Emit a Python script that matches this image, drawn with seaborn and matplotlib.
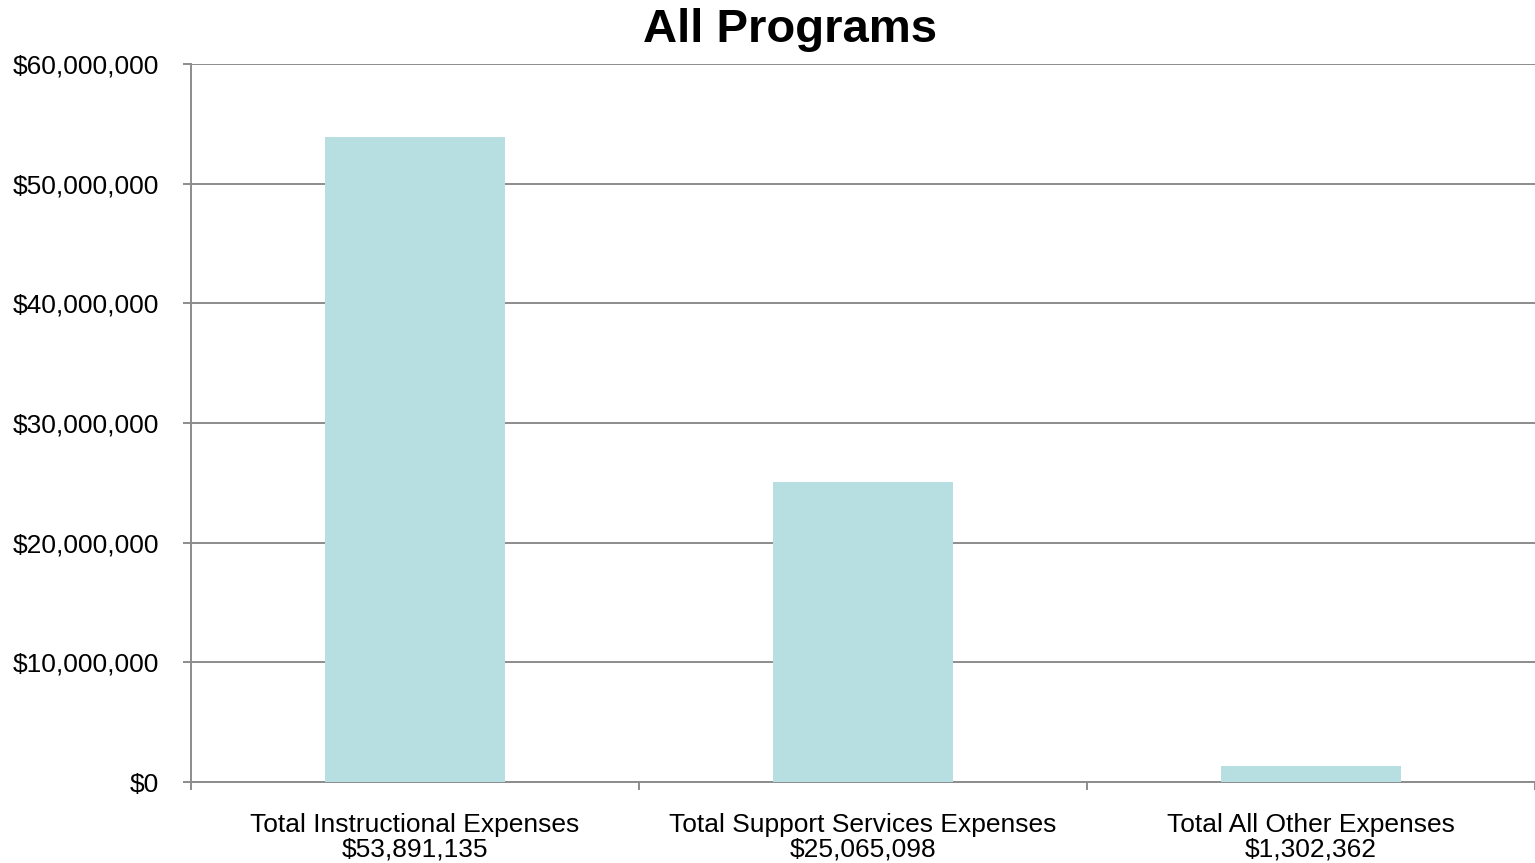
import matplotlib
matplotlib.use("Agg")
import matplotlib.pyplot as plt
import seaborn as sns
import pandas as pd
from matplotlib.ticker import FuncFormatter, FixedLocator

# dados do grafico
categorias = ['Total Instructional Expenses', 'Total Support Services Expenses', 'Total All Other Expenses']
valores = [53891135, 25065098, 1302362]

df = pd.DataFrame({'categoria': categorias, 'valor': valores})
df['rotulo'] = [f"{c}\n${v:,.0f}" for c, v in zip(categorias, valores)]

sns.set_style('white')
plt.rcParams['font.family'] = ['Liberation Sans', 'DejaVu Sans']
plt.rcParams['text.color'] = 'black'
plt.rcParams['xtick.color'] = 'black'
plt.rcParams['ytick.color'] = 'black'

fig = plt.figure(figsize=(15.35, 8.63), dpi=100)
ax = fig.add_axes([191 / 1535, 1 - 782 / 863, 1 - 191 / 1535, (782 - 64) / 863])

sns.barplot(data=df, x='rotulo', y='valor', color='#B7DFE2', width=0.4, saturation=1,
            linewidth=0, ax=ax, zorder=3)

ax.set_ylim(0, 60000000)
ax.set_xlim(-0.5, 2.5)
ax.set_yticks(range(0, 60000001, 10000000))
ax.yaxis.set_major_formatter(FuncFormatter(lambda v, p: f"${v:,.0f}"))
ax.grid(axis='y', color='#8C8C8C', linewidth=1.4, zorder=0)
ax.set_axisbelow(True)

# marcas entre as categorias
ax.xaxis.set_minor_locator(FixedLocator([-0.5, 0.5, 1.5, 2.5]))
ax.tick_params(axis='x', which='major', length=0, pad=22.5, labelsize=19, labelcolor='black')
ax.tick_params(axis='x', which='minor', length=6, width=1.4, color='#8C8C8C', direction='out', bottom=True)
ax.tick_params(axis='y', length=6, width=1.4, color='#8C8C8C', direction='out', left=True,
               labelsize=19, pad=17, labelcolor='black')
for lab in ax.get_xticklabels():
    lab.set_linespacing(1.0)

for s in ['top', 'right']:
    ax.spines[s].set_visible(False)
for s in ['left', 'bottom']:
    ax.spines[s].set_color('#8C8C8C')
    ax.spines[s].set_linewidth(1.4)

ax.set_xlabel('')
ax.set_ylabel('')
fig.text(0.515, 1 - 42 / 863, 'All Programs', ha='center', va='baseline', fontsize=34,
         fontweight='bold', color='black')

fig.savefig('out.png', dpi=100)
